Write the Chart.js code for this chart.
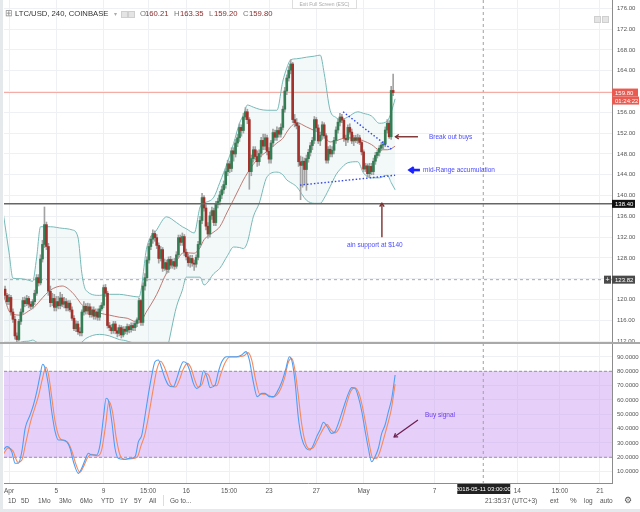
<!DOCTYPE html>
<html>
<head>
<meta charset="utf-8">
<script src="https://cdn.jsdelivr.net/npm/chart.js@4.4.0/dist/chart.umd.min.js"></script>
<style>
  body { margin: 0; width: 640px; height: 512px; overflow: hidden; background: #fff; position: relative;
         font-family: "Liberation Sans", Arial, sans-serif; }
  canvas { position: absolute; left: 0; }
  #price { top: 0; }
  #stoch { top: 343px; }
  .t { position: absolute; white-space: nowrap; line-height: 8px; }
  .hd { top: 10px; font-size: 7.7px; color: #333; }
  .lbl { color: #777; }
  .val { color: #8b2b2b; }
  .tb { top: 497px; font-size: 6.5px; color: #555; }
  .sq { position: absolute; width: 5px; height: 5px; background: #e4e4e4; border: 1px solid #cfcfcf; }
</style>
</head>
<body>
<canvas id="price" width="640" height="343"></canvas>
<canvas id="stoch" width="640" height="156"></canvas>

<div style="position:absolute;left:0;top:0;width:3px;height:512px;background:#e6e9ec"></div>
<div style="position:absolute;left:0;top:342px;width:640px;height:2px;background:#a9a9a9"></div>
<div style="position:absolute;left:0;top:509px;width:640px;height:3px;background:#e6e9ec"></div>

<!-- header -->
<div class="t hd" style="left:5px;top:9px;font-size:9px;color:#888">&#8862;</div>
<div class="t hd" style="left:15px">LTC/USD, 240, COINBASE</div>
<div class="t hd" style="left:114px;color:#aaa;font-size:6px">&#9662;</div>
<div class="sq" style="left:121px;top:11px"></div>
<div class="sq" style="left:128px;top:11px"></div>
<div class="t hd lbl" style="left:140px">O</div><div class="t hd val" style="left:145px">160.21</div>
<div class="t hd lbl" style="left:174px">H</div><div class="t hd val" style="left:180px">163.35</div>
<div class="t hd lbl" style="left:209px">L</div><div class="t hd val" style="left:214px">159.20</div>
<div class="t hd lbl" style="left:243px">C</div><div class="t hd val" style="left:249px">159.80</div>
<div class="t" style="left:292px;top:0;width:63px;height:8px;border:1px solid #ddd;border-top:none;background:#fff;font-size:5px;color:#aaa;text-align:center;line-height:8px">Exit Full Screen (ESC)</div>
<div class="sq" style="left:594px;top:16px"></div>
<div class="sq" style="left:602px;top:16px"></div>

<!-- toolbar -->
<div class="t tb" style="left:8px">1D</div>
<div class="t tb" style="left:21px">5D</div>
<div class="t tb" style="left:38px">1Mo</div>
<div class="t tb" style="left:59px">3Mo</div>
<div class="t tb" style="left:80px">6Mo</div>
<div class="t tb" style="left:101px">YTD</div>
<div class="t tb" style="left:120px">1Y</div>
<div class="t tb" style="left:134px">5Y</div>
<div class="t tb" style="left:149px">All</div>
<div style="position:absolute;left:163px;top:495px;width:1px;height:11px;background:#ddd"></div>
<div class="t tb" style="left:170px">Go to...</div>
<div class="t tb" style="left:485px">21:35:37 (UTC+3)</div>
<div class="t tb" style="left:550px">ext</div>
<div class="t tb" style="left:570px;font-size:7.5px">%</div>
<div class="t tb" style="left:584px">log</div>
<div class="t tb" style="left:600px">auto</div>
<div class="t tb" style="left:624px;font-size:9px;top:496px;color:#555">&#9881;</div>

<script>
// LTC/USD 4h candles, index 0 = Mar 31 16:00, one bar per 4 hours
const candleOpen = [
  122.0, 120.8, 119.6, 120.4, 117.6, 116.2, 113.0, 112.3, 115.8, 117.6,
  119.8, 119.2, 120.2, 119.1, 118.7, 119.6, 121.2, 124.2, 123.2, 127.8,
  130.6, 134.4, 130.2, 121.6, 119.4, 120.2, 118.5, 119.6, 118.8, 120.3,
  119.1, 119.6, 118.4, 119.3, 118.0, 116.4, 114.4, 115.3, 113.8, 113.6,
  117.6, 118.7, 117.8, 118.6, 117.1, 118.0, 116.8, 117.6, 116.6, 118.2,
  118.9, 122.3, 121.2, 115.0, 114.6, 114.0, 115.3, 114.0, 113.5, 114.6,
  113.2, 114.3, 113.9, 114.8, 114.2, 115.0, 114.6, 115.4, 116.1, 119.8,
  115.6, 122.6, 124.2, 127.6, 130.2, 131.6, 132.7, 131.9, 130.4, 127.9,
  129.6, 126.0, 127.1, 125.8, 127.7, 126.6, 127.3, 126.4, 128.6, 131.9,
  131.0, 132.1, 129.1, 128.2, 127.1, 127.9, 127.0, 126.8, 128.1, 130.6,
  135.2, 139.6, 137.6, 134.1, 132.6, 136.1, 137.1, 134.8, 138.3, 138.9,
  140.1, 141.1, 142.1, 144.6, 146.1, 145.2, 148.6, 148.0, 150.1, 151.1,
  153.1, 152.5, 155.1, 156.1, 154.6, 144.6, 147.1, 148.8, 147.5, 146.5,
  148.1, 150.6, 149.5, 151.1, 148.5, 147.0, 150.1, 152.1, 151.2, 152.5,
  151.8, 153.1, 156.6, 160.1, 162.6, 164.1, 165.3, 154.6, 154.0, 153.4,
  146.5, 145.8, 146.6, 145.0, 147.1, 148.3, 149.6, 150.6, 154.6, 153.0,
  150.5, 151.6, 153.6, 151.5, 146.8, 148.9, 148.0, 148.7, 150.6, 152.6,
  154.1, 155.1, 154.5, 151.0, 150.7, 153.1, 152.2, 150.5, 151.1, 150.6,
  151.1, 150.2, 148.4, 145.1, 145.7, 144.2, 145.6, 144.6, 146.6, 147.7,
  148.3, 149.1, 149.7, 149.9, 152.6, 153.9, 151.3, 160.21
];
const candleHigh = [
  122.6, 121.2, 121.0, 120.8, 118.2, 116.8, 113.6, 116.2, 118.2, 120.4,
  120.5, 120.8, 120.6, 119.6, 120.0, 121.8, 124.8, 124.8, 128.6, 131.4,
  137.8, 134.9, 130.8, 122.6, 121.2, 121.0, 120.6, 120.6, 121.4, 121.0,
  120.4, 120.2, 119.8, 119.8, 118.6, 116.9, 115.9, 115.8, 114.6, 118.0,
  119.6, 119.2, 119.3, 119.2, 118.6, 118.6, 118.2, 118.2, 118.8, 119.4,
  122.8, 122.9, 121.6, 115.6, 115.2, 115.8, 115.8, 114.6, 115.1, 115.0,
  114.8, 114.8, 115.3, 115.2, 115.5, 115.5, 115.9, 116.5, 120.3, 120.0,
  123.2, 125.0, 128.2, 130.8, 132.2, 133.4, 133.2, 132.5, 130.9, 130.2,
  130.0, 127.8, 127.6, 128.2, 128.3, 127.8, 127.9, 129.2, 132.4, 132.4,
  132.8, 132.5, 129.7, 128.8, 128.5, 128.5, 127.6, 128.6, 131.2, 136.0,
  140.4, 140.0, 138.2, 134.8, 136.8, 137.8, 137.6, 138.9, 139.5, 140.8,
  141.8, 142.8, 145.2, 146.8, 146.6, 149.2, 149.2, 150.8, 151.8, 153.8,
  153.6, 155.8, 156.9, 156.6, 155.0, 147.8, 149.4, 149.4, 148.6, 148.8,
  151.2, 151.8, 151.8, 151.6, 149.2, 150.6, 152.8, 152.6, 153.2, 153.0,
  153.8, 157.2, 160.8, 163.2, 164.8, 166.1, 165.6, 155.6, 154.8, 154.0,
  147.6, 147.4, 147.2, 147.8, 148.9, 150.2, 151.2, 155.2, 155.0, 153.6,
  152.2, 154.2, 154.0, 151.9, 149.4, 149.6, 149.4, 151.2, 153.2, 154.8,
  155.8, 155.6, 154.8, 151.6, 153.6, 153.8, 152.8, 151.6, 151.6, 151.8,
  151.6, 150.7, 148.8, 146.2, 146.1, 146.2, 146.2, 147.2, 148.3, 148.8,
  149.6, 150.2, 150.4, 153.2, 154.6, 154.4, 161.0, 163.35
];
const candleLow = [
  120.2, 119.0, 119.0, 117.0, 115.6, 112.4, 111.6, 112.0, 115.2, 117.2,
  118.6, 118.8, 118.4, 118.2, 118.2, 119.0, 120.8, 122.6, 122.8, 127.2,
  130.0, 129.6, 120.8, 118.6, 118.8, 117.8, 117.8, 118.2, 118.2, 118.6,
  118.4, 117.8, 117.8, 117.6, 116.0, 114.0, 113.8, 113.3, 113.0, 113.0,
  117.0, 117.2, 117.2, 116.6, 116.6, 116.2, 116.2, 116.0, 116.0, 117.8,
  118.4, 120.6, 114.5, 114.0, 113.4, 113.5, 113.4, 112.8, 113.0, 112.6,
  112.8, 113.4, 113.3, 113.6, 113.7, 114.0, 114.0, 114.8, 115.6, 115.0,
  115.0, 121.8, 123.6, 127.0, 129.6, 130.8, 131.2, 129.8, 127.0, 127.4,
  125.4, 125.6, 125.0, 125.2, 126.0, 126.0, 125.8, 126.0, 128.0, 130.4,
  130.4, 128.4, 127.6, 126.4, 126.2, 126.4, 125.6, 126.2, 127.6, 130.0,
  134.6, 137.0, 133.4, 131.8, 132.0, 135.4, 134.2, 134.2, 137.6, 138.2,
  139.4, 140.4, 141.4, 143.8, 144.4, 144.6, 146.6, 147.4, 149.4, 150.4,
  151.4, 152.0, 154.6, 153.8, 141.2, 143.8, 146.4, 146.8, 145.6, 145.8,
  147.4, 148.8, 148.8, 147.8, 146.2, 146.2, 149.4, 150.6, 150.6, 151.2,
  151.2, 152.6, 156.0, 159.4, 162.0, 163.4, 154.0, 153.2, 152.8, 145.6,
  139.2, 141.6, 142.2, 141.0, 146.4, 147.6, 148.8, 150.0, 152.4, 150.0,
  149.6, 150.8, 151.0, 146.2, 146.2, 147.4, 147.4, 148.0, 150.0, 152.0,
  153.4, 154.0, 150.4, 149.6, 150.2, 151.8, 150.0, 149.6, 150.2, 150.0,
  149.8, 147.8, 144.6, 144.6, 143.6, 143.6, 144.0, 144.0, 146.0, 147.2,
  147.6, 148.6, 149.0, 149.4, 152.0, 151.0, 150.8, 159.20
];
const candleClose = [
  120.8, 119.6, 120.4, 117.6, 116.2, 113.0, 112.3, 115.8, 117.6, 119.8,
  119.2, 120.2, 119.1, 118.7, 119.6, 121.2, 124.2, 123.2, 127.8, 130.6,
  134.4, 130.2, 121.6, 119.4, 120.2, 118.5, 119.6, 118.8, 120.3, 119.1,
  119.6, 118.4, 119.3, 118.0, 116.4, 114.4, 115.3, 113.8, 113.6, 117.6,
  118.7, 117.8, 118.6, 117.1, 118.0, 116.8, 117.6, 116.6, 118.2, 118.9,
  122.3, 121.2, 115.0, 114.6, 114.0, 115.3, 114.0, 113.5, 114.6, 113.2,
  114.3, 113.9, 114.8, 114.2, 115.0, 114.6, 115.4, 116.1, 119.8, 115.6,
  122.6, 124.2, 127.6, 130.2, 131.6, 132.7, 131.9, 130.4, 127.9, 129.6,
  126.0, 127.1, 125.8, 127.7, 126.6, 127.3, 126.4, 128.6, 131.9, 131.0,
  132.1, 129.1, 128.2, 127.1, 127.9, 127.0, 126.8, 128.1, 130.6, 135.2,
  139.6, 137.6, 134.1, 132.6, 136.1, 137.1, 134.8, 138.3, 138.9, 140.1,
  141.1, 142.1, 144.6, 146.1, 145.2, 148.6, 148.0, 150.1, 151.1, 153.1,
  152.5, 155.1, 156.1, 154.6, 144.6, 147.1, 148.8, 147.5, 146.5, 148.1,
  150.6, 149.5, 151.1, 148.5, 147.0, 150.1, 152.1, 151.2, 152.5, 151.8,
  153.1, 156.6, 160.1, 162.6, 164.1, 165.3, 154.6, 154.0, 153.4, 146.5,
  145.8, 146.6, 145.0, 147.1, 148.3, 149.6, 150.6, 154.6, 153.0, 150.5,
  151.6, 153.6, 151.5, 146.8, 148.9, 148.0, 148.7, 150.6, 152.6, 154.1,
  155.1, 154.5, 151.0, 150.7, 153.1, 152.2, 150.5, 151.1, 150.6, 151.1,
  150.2, 148.4, 145.1, 145.7, 144.2, 145.6, 144.6, 146.6, 147.7, 148.3,
  149.1, 149.7, 149.9, 152.6, 153.9, 151.3, 160.21, 159.80
];

// Bollinger bands, read at these bar positions
const bbIdx = [-1, 2, 4, 8, 12, 14, 16, 18, 23, 29, 34, 37, 39, 41, 48, 53, 58, 62, 68, 72,
  77, 82, 87, 90, 92, 96, 99, 101, 106, 109, 113, 116, 119, 121, 123, 126, 129, 133, 138, 141,
  143, 145, 148, 153, 157, 160, 162, 165, 168, 170, 174, 179, 182, 186, 190, 194, 196, 198];
const bbUpper = [136.8, 129.1, 124.1, 124.0, 123.7, 123.5, 128.0, 134.0, 134.0, 133.7,
  133.4, 132.0, 125.0, 121.8, 120.8, 121.0, 121.0, 120.8, 120.5, 130.1,
  133.4, 135.9, 134.8, 134.0, 133.6, 132.8, 137.8, 138.5, 139.7, 142.5,
  146.5, 150.0, 153.9, 155.5, 157.4, 157.0, 156.6, 156.4, 156.4, 162.0,
  164.5, 166.1, 166.3, 166.6, 166.8, 167.0, 163.5, 156.4, 155.0, 154.5,
  155.1, 156.1, 155.8, 155.3, 153.9, 154.3, 156.0, 158.6];
const bbBasis = [121.2, 117.8, 117.2, 117.0, 117.8, 118.3, 119.0, 119.9, 121.8, 122.6,
  121.4, 120.0, 119.0, 118.6, 117.4, 117.0, 116.6, 116.4, 115.5, 117.8,
  121.0, 125.1, 127.4, 128.9, 129.0, 128.9, 130.0, 131.5, 133.0, 134.0,
  137.0, 139.2, 141.5, 143.0, 144.3, 146.0, 147.3, 148.5, 150.1, 151.0,
  152.2, 153.2, 154.0, 153.2, 152.5, 152.0, 151.3, 150.3, 150.5, 150.8,
  151.1, 150.8, 150.5, 149.8, 148.8, 148.8, 149.0, 149.5];
const bbLower = [108.0, 109.5, 110.0, 111.8, 112.0, 112.2, 111.8, 111.2, 111.2, 111.5,
  111.5, 111.5, 111.8, 112.5, 113.3, 113.0, 112.3, 112.0, 110.5, 106.0,
  104.0, 110.0, 118.6, 121.8, 124.3, 124.3, 124.3, 122.8, 125.0, 126.0,
  128.5, 130.1, 130.0, 129.8, 131.0, 135.9, 138.5, 143.6, 144.5, 144.0,
  143.0, 142.5, 141.7, 139.1, 138.5, 138.5, 139.5, 141.7, 144.0, 145.0,
  146.3, 146.5, 144.3, 143.4, 143.4, 143.9, 142.5, 141.1];

// Stoch RSI %K and %D
const kIdx = [-0.9, 0.9, 3.4, 5.1, 6.8, 8.5, 10.2, 12.7, 14.4, 16.1,
  17.8, 19.1, 20.3, 22.0, 23.7, 25.4, 27.1, 29.6, 31.3, 33.0,
  34.7, 37.2, 38.9, 40.6, 42.3, 44.0, 46.5, 48.2, 49.9, 51.3,
  52.4, 54.2, 55.8, 57.5, 60.0, 63.5, 66.0, 67.7, 69.4, 71.1,
  72.7, 74.5, 76.1, 77.8, 79.5, 81.2, 82.9, 85.4, 87.2, 88.8,
  90.5, 92.2, 93.9, 95.6, 97.3, 99.0, 100.7, 102.4, 104.1, 106.6,
  108.3, 110.0, 112.5, 115.0, 117.6, 120.1, 122.3, 124.0, 126.0, 128.0,
  130.3, 132.0, 134.2, 136.2, 138.2, 140.5, 142.6, 144.3, 145.5, 147.2,
  148.9, 150.6, 152.8, 154.8, 156.5, 158.2, 159.9, 161.6, 163.6, 165.8,
  167.5, 169.2, 171.7, 174.3, 176.0, 177.7, 179.3, 181.1, 182.7, 184.4,
  186.1, 187.8, 189.5, 191.2, 192.9, 194.6, 196.3, 198.0];
const kVal = [25.1, 27.4, 23.9, 15.8, 15.8, 23.9, 40.2, 49.5, 56.5, 65.8,
  77.4, 84.9, 82.1, 70.4, 51.8, 37.9, 32.1, 32.1, 30.9, 26.3,
  16.9, 8.8, 12.3, 18.1, 22.8, 21.6, 21.6, 28.6, 47.2, 61.2,
  60.0, 44.8, 26.3, 19.3, 18.6, 19.3, 20.4, 30.9, 35.5, 49.5,
  63.5, 77.4, 86.7, 87.9, 82.1, 75.1, 70.4, 69.2, 75.1, 82.1,
  86.7, 85.5, 79.8, 71.6, 68.1, 70.0, 80.4, 76.3, 68.6, 70.4,
  79.8, 86.7, 90.2, 90.2, 90.2, 91.4, 93.7, 87.9, 72.7, 62.3,
  64.6, 64.6, 62.3, 62.3, 65.8, 72.7, 82.1, 90.2, 87.9, 72.7,
  47.2, 33.2, 26.3, 25.1, 28.6, 34.4, 39.0, 44.4, 41.3, 36.7,
  37.9, 43.7, 54.2, 64.6, 68.6, 68.1, 62.3, 51.8, 39.0, 26.3,
  16.9, 20.4, 26.3, 36.7, 42.5, 51.8, 61.2, 77.4];
const dIdx = [-0.9, 1.5, 4.0, 6.5, 8.5, 10.5, 13.0, 15.0, 17.0, 19.0,
  20.7, 22.0, 23.7, 25.4, 27.5, 30.0, 32.0, 34.0, 36.0, 38.0,
  40.0, 42.0, 44.0, 47.0, 49.0, 51.0, 52.7, 54.5, 56.5, 58.5,
  61.0, 64.0, 67.0, 69.0, 71.0, 73.0, 75.0, 77.0, 79.0, 80.5,
  82.5, 84.0, 86.5, 88.5, 90.3, 92.5, 94.5, 96.3, 98.0, 100.0,
  102.0, 103.5, 105.5, 107.5, 109.5, 111.5, 114.0, 116.5, 119.0, 121.5,
  123.3, 125.2, 127.2, 129.3, 131.5, 133.5, 136.0, 138.0, 140.0, 142.0,
  143.7, 145.5, 147.0, 148.7, 150.5, 152.3, 154.3, 156.3, 158.2, 160.0,
  161.8, 163.3, 165.5, 167.5, 169.5, 171.5, 173.5, 175.5, 177.5, 179.5,
  181.3, 183.0, 184.8, 186.6, 188.5, 190.3, 192.0, 194.0, 196.0, 198.0];
const dVal = [22, 26.5, 24.5, 16.5, 18, 30, 45, 54, 63, 75,
  83, 78, 62, 45, 34, 31.5, 30, 24, 15, 9.5,
  14, 20, 22, 21, 25, 42, 59, 52, 33, 21,
  18.5, 19, 20, 28, 36, 50, 66, 81, 87, 84,
  77, 71, 69, 74, 81, 85.5, 82, 74, 69, 71,
  78.5, 77, 70, 70, 78, 85.5, 90, 90, 90.2, 91,
  93, 88, 74, 64, 64, 63.5, 62, 63.5, 68, 76,
  86, 89, 82, 65, 44, 31, 26, 26.5, 31, 36,
  40.5, 43, 39, 37, 40, 48, 58, 66, 68.5, 65,
  56, 44, 30, 19.5, 19, 24, 32, 42, 53, 71];

// drawn trend lines (bar position, price)
const trendUpperIdx = [171.6, 196.5], trendUpperVal = [156.1, 148.8];
const trendLowerIdx = [149.7, 198.0], trendLowerVal = [142.0, 143.9];

// axis ticks
const priceTicks = [112, 116, 120, 124, 128, 132, 136, 140, 144, 148, 152, 156, 160, 164, 168, 172, 176];
const stochTicks = [10, 20, 30, 40, 50, 60, 70, 80, 90];
const timeTickPos = [2, 26, 50, 72.6, 92, 113.7, 134, 158, 182, 218, 260, 281.7, 302];
const timeTickLabels = ['Apr', '5', '9', '15:00', '16', '15:00', '23', '27', 'May', '7', '14', '15:00', '21'];

const lastPrice = 159.80, countdown = '01:24:22';
const supportLevel = 138.40, rangeLevel = 123.82;
const stochHigh = 80, stochLow = 20;
const markerIdx = 242.75, markerLabel = '2018-05-11 03:00:00';

const FONT = '"Liberation Sans", Arial, sans-serif';
const X_MIN = -0.54, X_MAX = 308.1;
const GREEN = '#347d55', RED = '#a3322c';
const GRID = '#eef0f3';

const zip = (xs, ys) => xs.map((x, i) => ({x: x, y: ys[i]}));

function xAxis(showLabels) {
    return {
        type: 'linear', min: X_MIN, max: X_MAX, offset: false,
        afterBuildTicks: s => { s.ticks = timeTickPos.map(v => ({value: v})); },
        afterFit: s => { s.height = showLabels ? 16 : 0; s.paddingLeft = 0; s.paddingRight = 0; },
        grid: { color: GRID, drawTicks: false, offset: false },
        border: { display: showLabels, color: '#8c8c8c' },
        ticks: {
            display: showLabels, autoSkip: false, maxRotation: 0, padding: 4,
            color: '#555', font: { size: 6.5, family: FONT },
            callback: (v, i) => timeTickLabels[i]
        }
    };
}

function yAxis(min, max, ticks, fmt) {
    return {
        position: 'right', min: min, max: max,
        afterBuildTicks: s => { s.ticks = ticks.map(v => ({value: v})); },
        afterFit: s => { s.width = 28; s.paddingTop = 0; s.paddingBottom = 0; },
        grid: { color: GRID, drawTicks: false },
        border: { color: '#8c8c8c' },
        ticks: { padding: 5, color: '#555', font: { size: 6, family: FONT }, callback: fmt }
    };
}

function arrow(ctx, x1, y1, x2, y2, color, width, head, filled) {
    const a = Math.atan2(y2 - y1, x2 - x1);
    ctx.strokeStyle = color; ctx.fillStyle = color; ctx.lineWidth = width;
    ctx.beginPath(); ctx.moveTo(x1, y1); ctx.lineTo(x2, y2); ctx.stroke();
    ctx.beginPath();
    ctx.moveTo(x2 - head * Math.cos(a - 0.6), y2 - head * Math.sin(a - 0.6));
    ctx.lineTo(x2, y2);
    ctx.lineTo(x2 - head * Math.cos(a + 0.6), y2 - head * Math.sin(a + 0.6));
    if (filled) { ctx.closePath(); ctx.fill(); } else { ctx.stroke(); }
}

function tag(ctx, x, yc, w, bg, text) {
    ctx.fillStyle = bg;
    ctx.fillRect(x, yc - 4, w, 8);
    ctx.fillStyle = '#fff';
    ctx.font = '6px ' + FONT;
    ctx.textAlign = 'left'; ctx.textBaseline = 'middle';
    ctx.fillText(text, x + 3, yc + 0.5);
}

function vMarker(chart) {
    const ctx = chart.ctx, a = chart.chartArea;
    const x = chart.scales.x.getPixelForValue(markerIdx);
    ctx.save();
    ctx.strokeStyle = '#a0a0a0'; ctx.lineWidth = 1; ctx.setLineDash([3, 3]);
    ctx.beginPath(); ctx.moveTo(x, a.top); ctx.lineTo(x, a.bottom); ctx.stroke();
    ctx.restore();
}

// price pane
const pricePlugin = {
    id: 'pricePane',
    beforeDatasetsDraw(chart) {
        const ctx = chart.ctx, a = chart.chartArea, y = chart.scales.y;
        vMarker(chart);
        ctx.save();
        ctx.lineWidth = 1;
        ctx.strokeStyle = '#f4aaa2';
        ctx.beginPath(); ctx.moveTo(a.left, y.getPixelForValue(lastPrice)); ctx.lineTo(a.right, y.getPixelForValue(lastPrice)); ctx.stroke();
        ctx.strokeStyle = '#aaa'; ctx.setLineDash([3, 3]);
        ctx.beginPath(); ctx.moveTo(a.left, y.getPixelForValue(rangeLevel)); ctx.lineTo(a.right, y.getPixelForValue(rangeLevel)); ctx.stroke();
        ctx.restore();
    },
    afterDatasetsDraw(chart) {
        const ctx = chart.ctx, a = chart.chartArea, x = chart.scales.x, y = chart.scales.y;
        const px = v => x.getPixelForValue(v), py = v => y.getPixelForValue(v);
        ctx.save();
        ctx.strokeStyle = '#666'; ctx.lineWidth = 1.5;
        ctx.beginPath(); ctx.moveTo(a.left, py(supportLevel)); ctx.lineTo(a.right, py(supportLevel)); ctx.stroke();

        arrow(ctx, px(209.6), py(151.3), px(198.2), py(151.3), '#7b2e2e', 1.4, 4, false);
        arrow(ctx, px(191.3), py(132.0), px(191.3), py(138.5), '#7b2e2e', 1.4, 4, false);
        arrow(ctx, px(210.6), py(144.9), px(205.4), py(144.9), '#1a22ff', 2.6, 5, false);

        ctx.font = '6.5px ' + FONT; ctx.fillStyle = '#4b4bff'; ctx.textBaseline = 'middle';
        ctx.textAlign = 'left';
        ctx.fillText('Break out buys', px(215.2), py(151.2));
        ctx.fillText('mid-Range accumulation', px(212.2), py(144.8));
        ctx.textAlign = 'center';
        ctx.fillText('ain support at $140', px(187.7), py(130.5));
        ctx.restore();
    },
    afterDraw(chart) {
        const ctx = chart.ctx, y = chart.scales.y;
        ctx.save();
        const yp = y.getPixelForValue(lastPrice);
        tag(ctx, 612, yp, 26, '#ea5a50', lastPrice.toFixed(2));
        tag(ctx, 612, yp + 8, 27, '#ea5a50', countdown);
        tag(ctx, 612, y.getPixelForValue(supportLevel), 23, '#111', supportLevel.toFixed(2));
        const yr = y.getPixelForValue(rangeLevel);
        tag(ctx, 612, yr, 23, '#4a4a4a', rangeLevel.toFixed(2));
        ctx.fillStyle = '#4a4a4a'; ctx.fillRect(604, yr - 4, 7, 8);
        ctx.fillStyle = '#fff'; ctx.font = '7px ' + FONT; ctx.textAlign = 'center';
        ctx.fillText('+', 607.5, yr + 0.5);
        ctx.restore();
    }
};

const idx = candleClose.map((c, i) => i);
new Chart(document.getElementById('price'), {
    type: 'bar',
    data: {
        datasets: [
            { type: 'line', data: zip(trendUpperIdx, trendUpperVal), borderColor: '#3346ee', borderWidth: 1.4,
              borderDash: [1.5, 2], pointRadius: 0, order: -2 },
            { type: 'line', data: zip(trendLowerIdx, trendLowerVal), borderColor: '#3346ee', borderWidth: 1.4,
              borderDash: [1.5, 2], pointRadius: 0, order: -2 },
            { data: idx.map(i => ({x: i, y: [candleOpen[i], candleClose[i]]})),
              backgroundColor: c => candleClose[c.dataIndex] >= candleOpen[c.dataIndex] ? GREEN : RED,
              barThickness: 2, grouped: false, minBarLength: 1, borderWidth: 0, order: 0 },
            { data: idx.map(i => ({x: i, y: [candleLow[i], candleHigh[i]]})),
              backgroundColor: '#a2a2a2', barThickness: 1, grouped: false, borderWidth: 0, order: 1 },
            { type: 'line', data: zip(bbIdx, bbBasis), borderColor: '#b86a63', borderWidth: 0.9,
              pointRadius: 0, cubicInterpolationMode: 'monotone', order: 2 },
            { type: 'line', data: zip(bbIdx, bbUpper), borderColor: '#76b9b7', borderWidth: 1,
              pointRadius: 0, cubicInterpolationMode: 'monotone', fill: '+1',
              backgroundColor: 'rgba(120,185,185,0.09)', order: 3 },
            { type: 'line', data: zip(bbIdx, bbLower), borderColor: '#76b9b7', borderWidth: 1,
              pointRadius: 0, cubicInterpolationMode: 'monotone', order: 4 }
        ]
    },
    options: {
        responsive: false, animation: false, devicePixelRatio: 1,
        layout: { padding: { left: 4, right: 0, top: 0, bottom: 0 } },
        plugins: { legend: { display: false }, tooltip: { enabled: false } },
        scales: {
            x: xAxis(false),
            y: yAxis(111.64, 177.6, priceTicks, v => v.toFixed(2))
        }
    },
    plugins: [pricePlugin]
});

// stoch RSI pane
const stochPlugin = {
    id: 'stochPane',
    beforeDatasetsDraw(chart) {
        const ctx = chart.ctx, a = chart.chartArea, y = chart.scales.y;
        const top = y.getPixelForValue(stochHigh), bot = y.getPixelForValue(stochLow);
        ctx.save();
        ctx.fillStyle = 'rgba(200,150,245,0.45)';
        ctx.fillRect(a.left, top, a.right - a.left, bot - top);
        ctx.strokeStyle = '#9d8aab'; ctx.lineWidth = 1; ctx.setLineDash([3, 2]);
        [top, bot].forEach(p => { ctx.beginPath(); ctx.moveTo(a.left, p); ctx.lineTo(a.right, p); ctx.stroke(); });
        ctx.restore();
        vMarker(chart);
    },
    afterDatasetsDraw(chart) {
        const ctx = chart.ctx, x = chart.scales.x, y = chart.scales.y;
        const px = v => x.getPixelForValue(v), py = v => y.getPixelForValue(v);
        ctx.save();
        arrow(ctx, px(209.6), py(46.0), px(197.5), py(34.2), '#6d1f4f', 1.3, 4, false);
        ctx.font = '6.5px ' + FONT; ctx.fillStyle = '#6a3df0';
        ctx.textAlign = 'center'; ctx.textBaseline = 'middle';
        ctx.fillText('Buy signal', px(220.8), py(49.5));
        ctx.restore();
    },
    afterDraw(chart) {
        const ctx = chart.ctx, a = chart.chartArea;
        const xm = chart.scales.x.getPixelForValue(markerIdx);
        ctx.save();
        ctx.fillStyle = '#222';
        ctx.fillRect(xm - 26, a.bottom + 1, 53, 10);
        ctx.fillStyle = '#fff'; ctx.font = '6px ' + FONT;
        ctx.textAlign = 'center'; ctx.textBaseline = 'middle';
        ctx.fillText(markerLabel, xm, a.bottom + 6.5);
        ctx.restore();
    }
};

new Chart(document.getElementById('stoch'), {
    type: 'line',
    data: {
        datasets: [
            { data: zip(kIdx, kVal), borderColor: '#4d9ef6', borderWidth: 1.1, pointRadius: 0,
              cubicInterpolationMode: 'monotone', order: 0 },
            { data: zip(dIdx, dVal), borderColor: '#f7895a', borderWidth: 1.1, pointRadius: 0,
              cubicInterpolationMode: 'monotone', order: 1 }
        ]
    },
    options: {
        responsive: false, animation: false, devicePixelRatio: 1,
        layout: { padding: { left: 4, right: 0, top: 0, bottom: 0 } },
        plugins: { legend: { display: false }, tooltip: { enabled: false } },
        scales: {
            x: xAxis(true),
            y: yAxis(2.05, 99.75, stochTicks, v => v.toFixed(4))
        }
    },
    plugins: [stochPlugin]
});
</script>
</body>
</html>
